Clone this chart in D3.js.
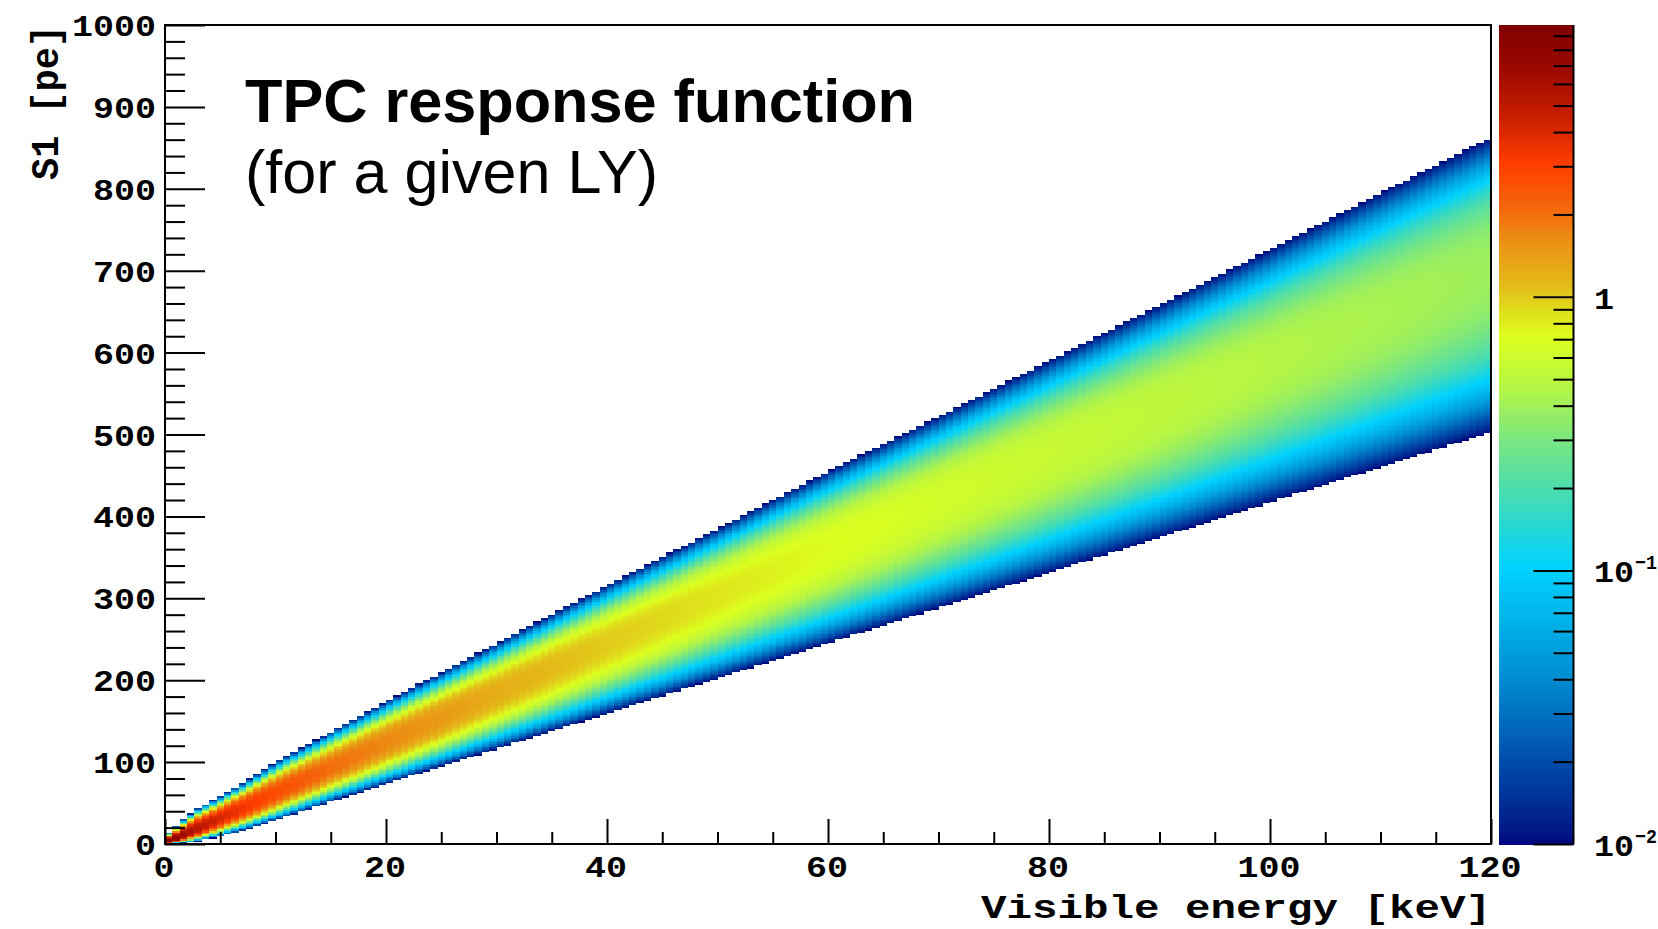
<!DOCTYPE html>
<html>
<head>
<meta charset="utf-8">
<script src="https://cdn.jsdelivr.net/npm/d3@7"></script>
<style>
  html, body { margin: 0; padding: 0; background: #fff; }
  svg { display: block; }
</style>
</head>
<body>
<svg id="chart" width="1658" height="929"></svg>
<script>
// ---------------------------------------------------------------
// Response band, characterised at a set of visible energies (keV)
// ---------------------------------------------------------------
const anchorEnergy = [0.33, 1, 2, 3, 5, 7.5, 10, 15, 20, 30, 40, 50, 60, 70, 80, 90, 100, 110, 120];
// most probable S1 (pe)
const modeS1       = [2, 6, 12, 18, 31, 46, 62, 93, 124, 185, 246, 305, 363, 421, 478, 534, 591, 648, 705];
// S1 (pe) where the density falls to the 0.01 floor, below and above the mode
const lowerEdgeS1  = [0, 0, 1, 3, 9, 18, 29, 51, 73, 116, 159, 202, 245, 288, 331, 374, 417, 460, 503];
const upperEdgeS1  = [14, 22, 34, 44, 58, 78, 100, 137, 174, 245, 316, 385, 455, 522, 590, 658, 726, 795, 863];
// density at the mode
const peakDensity  = [9.85, 8.0, 6.3, 5.3, 4.1, 3.3, 2.7, 2.05, 1.7, 1.25, 1.0, 0.84, 0.73, 0.64, 0.57, 0.52, 0.47, 0.43, 0.39];
// shape of the fall-off either side of the mode (2 = Gaussian)
const profileExponent = 2.6;

// histogram binning
const energyRange = [0, 120];
const s1Range = [0, 1000];
const nEnergyBins = 180;
const nS1Bins = 500;

// axis ticks and labels
const xMajorTicks = [0, 20, 40, 60, 80, 100, 120];
const xMinorTicks = d3.range(0, 121, 5).filter(v => v % 20 !== 0);
const yMajorTicks = [0, 100, 200, 300, 400, 500, 600, 700, 800, 900, 1000];
const yMinorTicks = d3.range(0, 1001, 20).filter(v => v % 100 !== 0);
const zRange = [0.01, 9.85];
const zMajorTicks = [0.01, 0.1, 1];
const zMajorLabels = [["10", "\u22122"], ["10", "\u22121"], ["1", ""]];
const zMinorTicks = [0.01, 0.1, 1].flatMap(d => d3.range(2, 10).map(k => k * d)).filter(v => v < zRange[1]);

const xTitle = "Visible energy [keV]";
const yTitle = "S1 [pe]";
const titleLines = ["TPC response function", "(for a given LY)"];

// colour palette (position along the log colour axis, 0 = bottom)
const paletteStops = [0, 0.01, 0.074, 0.139, 0.203, 0.267, 0.338, 0.39, 0.427, 0.492, 0.557, 0.62, 0.685, 0.736, 0.781, 0.833, 0.878, 0.941, 1];
const paletteColors = ["#000080", "#001482", "#003ca0", "#0064b9", "#008cd2", "#00afe6", "#00d2ff", "#28d7d2",
                       "#46dcb4", "#78e682", "#b4f546", "#dcff1e", "#e4b919", "#eb9114", "#f5640a", "#ff3c00",
                       "#d22300", "#a00a00", "#800000"];

// ---------------------------------------------------------------
const svg = d3.select("#chart");
const frame = { left: 165, right: 1491, top: 25, bottom: 844 };
const bar = { left: 1499, right: 1574 };

const x = d3.scaleLinear().domain(energyRange).range([frame.left, frame.right]);
const y = d3.scaleLinear().domain(s1Range).range([frame.bottom, frame.top]);
const z = d3.scaleLog().domain(zRange).range([0, 1]);
const palette = d3.scaleLinear().domain(paletteStops).range(paletteColors).interpolate(d3.interpolateRgb).clamp(true);
const colorOf = v => palette(z(v));

const monoFont = "'Liberation Mono', 'DejaVu Sans Mono', monospace";
const sansFont = "'Liberation Sans', Arial, Helvetica, sans-serif";

// band parameters as a function of energy
const modeAt  = d3.scaleLinear().domain(anchorEnergy).range(modeS1).clamp(true);
const lowAt   = d3.scaleLinear().domain(anchorEnergy).range(lowerEdgeS1).clamp(true);
const highAt  = d3.scaleLinear().domain(anchorEnergy).range(upperEdgeS1).clamp(true);
const peakAt  = d3.scaleLinear().domain(anchorEnergy).range(peakDensity).clamp(true);

// fill the histogram cells above the floor
const dE = (energyRange[1] - energyRange[0]) / nEnergyBins;
const dS = (s1Range[1] - s1Range[0]) / nS1Bins;
const cells = [];
for (let i = 0; i < nEnergyBins; i++) {
  const e0 = energyRange[0] + i * dE, ec = e0 + dE / 2;
  const m = modeAt(ec), lo = lowAt(ec), hi = highAt(ec), pk = peakAt(ec);
  const logDrop = Math.log(zRange[0] / pk);          // negative
  const halfLow = Math.max(m - lo, 0.6), halfHigh = hi - m;
  const j0 = Math.max(0, Math.floor((lo - 10) / dS)), j1 = Math.min(nS1Bins - 1, Math.ceil((hi + 10) / dS));
  for (let j = j0; j <= j1; j++) {
    const s0 = s1Range[0] + j * dS, sc = s0 + dS / 2;
    const f = Math.abs(sc - m) / (sc < m ? halfLow : halfHigh);
    const v = pk * Math.exp(logDrop * Math.pow(f, profileExponent));
    if (v >= zRange[0]) cells.push({ e0, e1: e0 + dE, s0, s1: s0 + dS, v: Math.min(v, zRange[1]) });
  }
}

svg.append("g")
  .attr("shape-rendering", "crispEdges")
  .selectAll("rect")
  .data(cells)
  .join("rect")
  .attr("x", d => x(d.e0))
  .attr("y", d => y(d.s1))
  .attr("width", d => x(d.e1) - x(d.e0))
  .attr("height", d => y(d.s0) - y(d.s1))
  .attr("fill", d => colorOf(d.v));

// ---------------- axes ----------------
function styleTicks(g) {
  g.select(".domain").remove();
  g.selectAll(".tick line").attr("stroke", "#000").attr("stroke-width", 2);
  g.selectAll(".tick text").remove();
}

svg.append("g").attr("transform", `translate(0,${frame.bottom})`)
  .call(d3.axisBottom(x).tickValues(xMajorTicks).tickSize(-25).tickFormat(""))
  .call(styleTicks);
svg.append("g").attr("transform", `translate(0,${frame.bottom})`)
  .call(d3.axisBottom(x).tickValues(xMinorTicks).tickSize(-12).tickFormat(""))
  .call(styleTicks);
svg.append("g").attr("transform", `translate(${frame.left},0)`)
  .call(d3.axisLeft(y).tickValues(yMajorTicks).tickSize(-40).tickFormat(""))
  .call(styleTicks);
svg.append("g").attr("transform", `translate(${frame.left},0)`)
  .call(d3.axisLeft(y).tickValues(yMinorTicks).tickSize(-20).tickFormat(""))
  .call(styleTicks);

// frame
svg.append("rect")
  .attr("x", frame.left).attr("y", frame.top)
  .attr("width", frame.right - frame.left).attr("height", frame.bottom - frame.top)
  .attr("fill", "none").attr("stroke", "#000").attr("stroke-width", 2);

// tick labels
const pitch = 21;
svg.append("g").selectAll("text").data(xMajorTicks).join("text")
  .attr("x", d => x(d) - 1).attr("y", 877)
  .attr("text-anchor", "middle")
  .attr("font-family", monoFont).attr("font-weight", "bold").attr("font-size", 29)
  .attr("textLength", d => String(d).length * pitch).attr("lengthAdjust", "spacingAndGlyphs")
  .text(d => d);

svg.append("g").selectAll("text").data(yMajorTicks).join("text")
  .attr("x", frame.left - 9).attr("y", d => y(d) + 11)
  .attr("text-anchor", "end")
  .attr("font-family", monoFont).attr("font-weight", "bold").attr("font-size", 29)
  .attr("textLength", d => String(d).length * pitch).attr("lengthAdjust", "spacingAndGlyphs")
  .text(d => d);

// axis titles
svg.append("text")
  .attr("x", frame.right).attr("y", 918)
  .attr("text-anchor", "end")
  .attr("font-family", monoFont).attr("font-weight", "bold").attr("font-size", 34)
  .attr("textLength", 510).attr("lengthAdjust", "spacingAndGlyphs")
  .text(xTitle);

svg.append("text")
  .attr("transform", `translate(58,${frame.top}) rotate(-90)`)
  .attr("text-anchor", "end")
  .attr("font-family", monoFont).attr("font-weight", "bold").attr("font-size", 38)
  .attr("textLength", 155).attr("lengthAdjust", "spacingAndGlyphs")
  .text(yTitle);

// title
svg.append("text")
  .attr("x", 245).attr("y", 122)
  .attr("font-family", sansFont).attr("font-weight", "bold").attr("font-size", 61)
  .attr("textLength", 670).attr("lengthAdjust", "spacingAndGlyphs")
  .text(titleLines[0]);
svg.append("text")
  .attr("x", 245).attr("y", 193)
  .attr("font-family", sansFont).attr("font-size", 61)
  .attr("textLength", 413).attr("lengthAdjust", "spacingAndGlyphs")
  .text(titleLines[1]);

// ---------------- colour bar ----------------
const zy = d3.scaleLog().domain(zRange).range([frame.bottom, frame.top]);
const nSlices = 255;
const slices = d3.range(nSlices).map(i => {
  const t0 = i / nSlices, t1 = (i + 1) / nSlices;
  return { t0, t1, v: z.invert((t0 + t1) / 2) };
});
svg.append("g").attr("shape-rendering", "crispEdges")
  .selectAll("rect").data(slices).join("rect")
  .attr("x", bar.left).attr("width", bar.right - bar.left)
  .attr("y", d => zy(z.invert(d.t1)))
  .attr("height", d => zy(z.invert(d.t0)) - zy(z.invert(d.t1)) + 0.6)
  .attr("fill", d => colorOf(d.v));

svg.append("g").attr("transform", `translate(${bar.right - 0.5},0)`)
  .call(d3.axisLeft(zy).tickValues(zMajorTicks).tickSize(40).tickFormat(""))
  .call(styleTicks);
svg.append("g").attr("transform", `translate(${bar.right - 0.5},0)`)
  .call(d3.axisLeft(zy).tickValues(zMinorTicks).tickSize(20).tickFormat(""))
  .call(styleTicks);
svg.append("line")
  .attr("x1", bar.right - 0.5).attr("x2", bar.right - 0.5)
  .attr("y1", frame.top).attr("y2", frame.bottom)
  .attr("stroke", "#000").attr("stroke-width", 2);

const zl = svg.append("g").selectAll("g").data(zMajorTicks).join("g");
zl.append("text")
  .attr("x", 1594).attr("y", d => zy(d) + 12)
  .attr("font-family", monoFont).attr("font-weight", "bold").attr("font-size", 29)
  .attr("textLength", (d, i) => zMajorLabels[i][0].length * 20).attr("lengthAdjust", "spacingAndGlyphs")
  .text((d, i) => zMajorLabels[i][0]);
zl.filter((d, i) => zMajorLabels[i][1] !== "").append("text")
  .attr("x", 1635).attr("y", d => zy(d) - 1)
  .attr("font-family", monoFont).attr("font-weight", "bold").attr("font-size", 20)
  .attr("textLength", 22).attr("lengthAdjust", "spacingAndGlyphs")
  .text(d => zMajorLabels[zMajorTicks.indexOf(d)][1]);
</script>
</body>
</html>
